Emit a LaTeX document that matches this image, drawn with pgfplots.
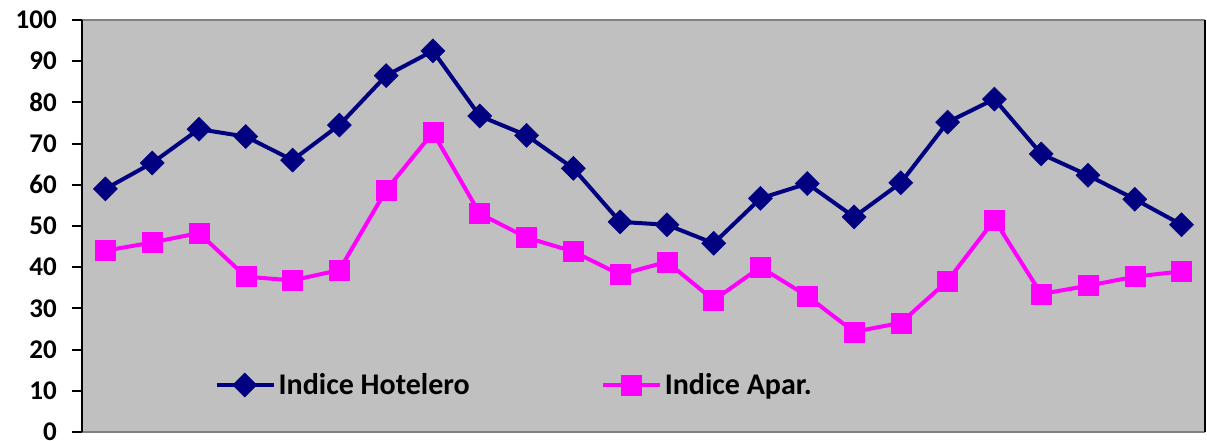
\documentclass[border=0pt]{standalone}
\usepackage{fontspec}
\setmainfont{Carlito}
\usepackage{pgfplots}
\pgfplotsset{compat=1.18}
\definecolor{navyc}{HTML}{000080}
\definecolor{magc}{HTML}{FF00FF}
\definecolor{bgc}{HTML}{C0C0C0}
\definecolor{brd}{HTML}{808080}
\begin{document}
\begin{tikzpicture}[x=1pt,y=1pt]
\useasboundingbox (0,0) rectangle (1207,441);
\begin{axis}[
  at={(82pt,9pt)}, anchor=south west,
  width=1123pt, height=412pt, scale only axis,
  xmin=-0.5, xmax=23.5, ymin=0, ymax=100,
  axis background/.style={fill=bgc},
  axis line style={draw=brd, line width=1.5pt},
  separate axis lines,
  y axis line style={draw=black, line width=2pt},
  xtick=\empty,
  ytick={0,10,...,100},
  ytick pos=left,
  ytick style={draw=black, line width=2pt},
  tick align=outside, major tick length=10pt,
  yticklabel style={font=\fontsize{27}{27}\selectfont\bfseries, inner sep=0pt, xshift=-15pt},
  /pgf/number format/assume math mode=true,
  legend columns=2,
  legend style={at={(rel axis cs:0.118,0.114)}, anchor=west, draw=none, fill=none,
    font=\fontsize{30}{30}\selectfont\bfseries, inner sep=0pt,
    nodes={inner sep=3pt},
    /tikz/every even column/.append style={column sep=128pt}},
  legend image code/.code={\draw[mark repeat=2,mark phase=2] plot coordinates {(0pt,0pt)(28pt,0pt)(57pt,0pt)};},
]
\addplot[navyc, line width=4pt, mark=square*, mark size=8.5pt, mark options={rotate=45, solid, line width=0.5pt}] coordinates {
(0,59) (1,65.3) (2,73.5) (3,71.7) (4,66) (5,74.5) (6,86.5) (7,92.5) (8,76.7) (9,72) (10,64) (11,51)
(12,50.3) (13,45.8) (14,56.7) (15,60.3) (16,52.2) (17,60.5) (18,75.2) (19,80.8) (20,67.5) (21,62.3) (22,56.5) (23,50.3)};
\addlegendentry{Indice Hotelero}
\addplot[magc, line width=4pt, mark=square*, mark size=10pt, mark options={solid, line width=0.5pt}] coordinates {
(0,44) (1,46) (2,48.3) (3,37.7) (4,36.8) (5,39.3) (6,58.7) (7,72.7) (8,53) (9,47.2) (10,43.8) (11,38.2)
(12,41.3) (13,32) (14,40) (15,33) (16,24.3) (17,26.5) (18,36.7) (19,51.5) (20,33.5) (21,35.5) (22,37.7) (23,39)};
\addlegendentry{Indice Apar.}
\end{axis}
\end{tikzpicture}
\end{document}
